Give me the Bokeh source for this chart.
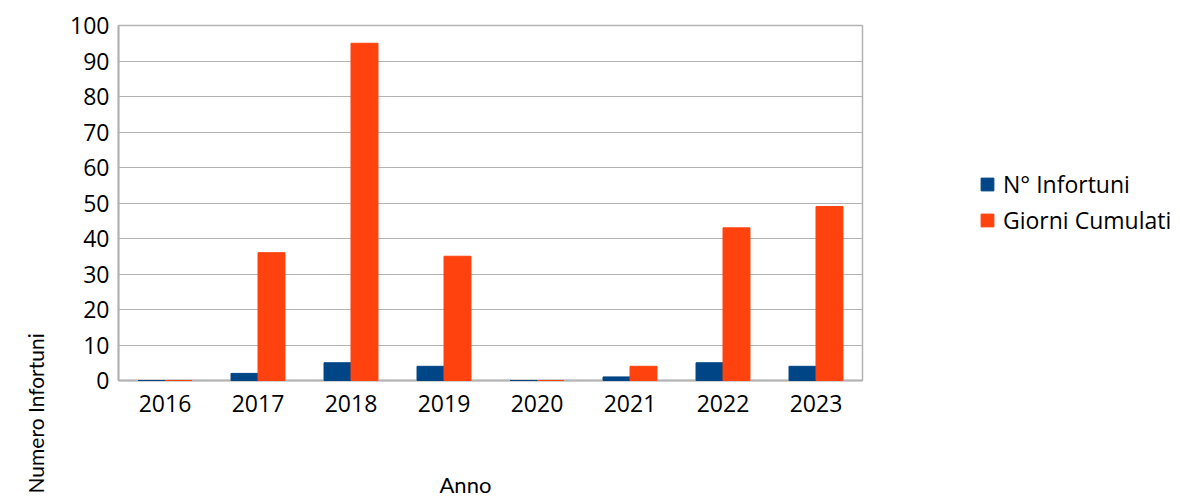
from bokeh.plotting import figure
from bokeh.models import ColumnDataSource, FactorRange, Range1d, Legend, LegendItem, Title, FixedTicker
from bokeh.transform import dodge
from bokeh.embed import file_html
from bokeh.resources import INLINE

years = ["2016", "2017", "2018", "2019", "2020", "2021", "2022", "2023"]
infortuni = [0, 2, 5, 4, 0, 1, 5, 4]
giorni = [0, 36, 95, 35, 0, 4, 43, 49]
y_ticks = list(range(0, 101, 10))

BLUE = "#004586"
ORANGE = "#ff420e"
GRID = "#b3b3b3"

src = ColumnDataSource(dict(years=years, infortuni=infortuni, giorni=giorni))

p = figure(frame_width=744, frame_height=355, output_backend="svg", toolbar_location=None,
           x_range=FactorRange(*years), y_range=Range1d(0, 100),
           min_border_left=118, min_border_right=0, min_border_top=25, min_border_bottom=0)

bw = 0.29
r1 = p.vbar(x=dodge("years", -bw / 2, range=p.x_range), top="infortuni", width=bw, source=src,
            fill_color=BLUE, line_color=BLUE, line_width=1, level="overlay")
r2 = p.vbar(x=dodge("years", bw / 2, range=p.x_range), top="giorni", width=bw, source=src,
            fill_color=ORANGE, line_color=ORANGE, line_width=1, level="overlay")

p.yaxis.ticker = FixedTicker(ticks=y_ticks)
p.xgrid.grid_line_color = None
p.ygrid.grid_line_color = GRID
p.ygrid.grid_line_width = 1
p.outline_line_color = GRID
p.outline_line_width = 1.5

for ax in (p.xaxis, p.yaxis):
    ax.axis_line_color = GRID
    ax.axis_line_width = 2
    ax.major_tick_line_color = None
    ax.minor_tick_line_color = None
    ax.major_label_text_font = "Open Sans"
    ax.major_label_text_font_size = "23px"
    ax.major_label_text_color = "#000000"
p.xaxis.major_label_standoff = 8
p.yaxis.major_label_standoff = 3

legend = Legend(items=[LegendItem(label="N° Infortuni", renderers=[r1]),
                       LegendItem(label="Giorni Cumulati", renderers=[r2])],
                location=(107, 134), border_line_alpha=0, background_fill_alpha=0,
                padding=10, margin=0, spacing=4, glyph_width=16, glyph_height=16,
                label_height=32, label_standoff=8,
                label_text_font="Open Sans", label_text_font_size="23px", label_text_color="#000000")
p.add_layout(legend, "right")

p.add_layout(Title(text="Anno", align="left", offset=321, standoff=109, text_font="Lato",
                   text_font_size="22px", text_font_style="normal", text_color="#000000"), "below")
p.add_layout(Title(text="Numero Infortuni", align="left", offset=-113, standoff=40, text_font="Lato",
                   text_font_size="21px", text_font_style="normal", text_color="#000000"), "left")

open("out.html", "w").write(file_html(p, INLINE))
